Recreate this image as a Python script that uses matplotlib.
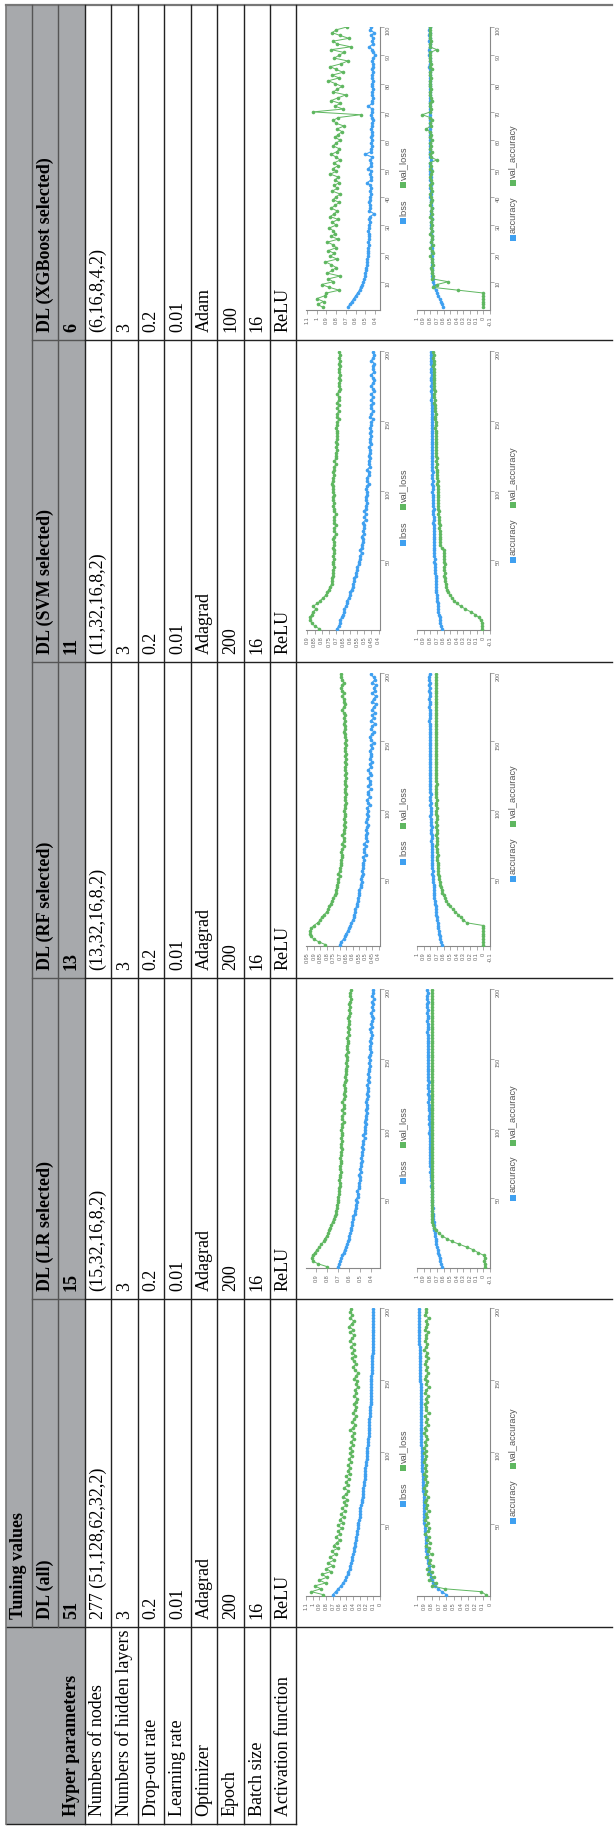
import numpy as np
import matplotlib
matplotlib.use("Agg")
import matplotlib.pyplot as plt
from matplotlib.patches import Rectangle

# ---------------- table content ----------------
column_titles = ["DL (all)", "DL (LR selected)", "DL (RF selected)", "DL (SVM selected)", "DL (XGBoost selected)"]
feature_counts = ["51", "15", "13", "11", "6"]
param_names = ["Numbers of nodes", "Numbers of hidden layers", "Drop-out rate", "Learning rate",
               "Optimizer", "Epoch", "Batch size", "Activation function"]
nodes = ["277 (51,128,62,32,2)", "(15,32,16,8,2)", "(13,32,16,8,2)", "(11,32,16,8,2)", "(6,16,8,4,2)"]
hidden_layers = ["3", "3", "3", "3", "3"]
dropout = ["0.2", "0.2", "0.2", "0.2", "0.2"]
learning_rate = ["0.01", "0.01", "0.01", "0.01", "0.01"]
optimizer = ["Adagrad", "Adagrad", "Adagrad", "Adagrad", "Adam"]
epoch_vals = ["200", "200", "200", "200", "100"]
batch_size = ["16", "16", "16", "16", "16"]
activation = ["ReLU", "ReLU", "ReLU", "ReLU", "ReLU"]

# ---------------- training histories (values x100) ----------------
epochs_200 = list(range(1, 200, 2))
epochs_100 = list(range(1, 101))

all_loss = [70,66,62,58,55,52,50,48,47,45, 44,43,42,41,40,39,38,37,37,36,
            35,34,34,33,32,32,31,30,30,29, 29,28,27,27,26,26,25,25,24,24,
            23,23,22,22,22,21,21,20,20,19, 19,19,18,18,18,17,17,17,16,16,
            16,16,15,15,15,15,14,14,14,14, 14,13,13,13,13,13,13,12,12,12,
            12,12,12,12,11,11,11,11,11,11, 11,11,10,11,10,10,10,10,10,10]
all_val_loss = [85,102,88,97,81,90,79,86,73,80, 70,77,68,74,66,72,63,69,64,60,
                66,59,62,57,63,55,60,54,58,52, 56,51,54,49,55,50,47,53,48,51,
                46,50,45,48,44,47,43,46,42,45, 41,44,40,43,39,42,38,44,40,37,
                41,38,36,40,37,35,39,36,34,38, 35,37,33,36,34,38,35,33,37,40,
                36,39,42,37,41,38,43,39,45,41, 38,44,40,46,42,39,45,41,44,43]
all_acc = [60,66,71,75,78,80,81,82,83,84, 84,85,85,86,86,87,87,87,88,88,
           88,89,89,89,89,90,90,90,90,90, 91,91,91,91,91,91,92,92,92,92,
           92,92,92,93,93,93,93,93,93,93, 93,93,94,94,94,94,94,94,94,94,
           94,94,95,95,95,95,95,95,95,95, 95,95,95,95,96,96,96,96,96,96,
           96,96,96,96,96,96,96,97,97,97, 97,97,97,97,97,97,97,97,97,97]
all_val_acc = [6,12,62,79,74,83,77,85,80,86, 78,84,82,87,80,85,83,88,82,86,
               84,89,85,83,87,85,89,86,88,84, 88,86,89,87,85,89,87,90,88,86,
               89,88,90,87,89,88,91,89,87,90, 88,90,87,89,86,88,90,87,89,85,
               88,86,89,84,88,87,89,86,88,85, 89,87,84,88,86,89,87,85,88,86,
               89,87,85,88,86,90,87,86,89,87, 88,85,89,87,86,88,84,89,87,88]

lr_loss = [70,69,68,67,66,65,64,63,62,61, 60,60,59,58,58,57,57,56,56,55,
           55,54,54,53,54,52,52,53,51,51, 51,50,50,51,49,50,49,49,48,49,
           48,48,47,48,47,47,46,47,46,46, 46,45,46,45,45,44,45,44,44,45,
           44,43,44,43,43,44,42,43,42,43, 42,42,41,42,41,42,41,40,41,41,
           40,41,40,39,40,41,39,40,39,38, 39,40,38,39,38,39,37,39,38,38]
lr_val_loss = [80,88,93,94,93,91,89,87,85,83, 82,80,79,78,77,76,75,74,73,72,
               72,71,71,70,70,70,69,69,69,68, 68,69,68,68,67,68,68,67,67,68,
               67,67,66,67,67,66,67,66,66,67, 66,66,65,66,66,65,66,65,65,66,
               65,64,65,64,64,65,64,63,64,63, 63,63,62,63,62,62,63,61,62,62,
               61,61,62,60,61,60,61,60,60,61, 60,59,60,59,60,59,58,59,59,58]
lr_acc = [62,64,65,66,67,68,69,70,71,72, 72,73,73,74,74,75,75,76,76,76,
          77,76,77,77,78,77,78,78,78,79, 78,79,79,79,80,79,80,80,80,80,
          81,80,81,81,80,81,81,81,82,81, 81,82,81,82,82,81,82,82,82,83,
          82,82,83,82,83,83,82,83,83,83, 83,84,83,83,84,83,84,84,83,84,
          84,84,83,84,85,84,84,84,85,84, 84,85,84,85,85,84,85,85,84,85]
lr_val_acc = [-2,-2,-1,-2,-1,8,15,25,36,47, 55,62,67,71,74,76,77,77,77,77,
              77,78,77,77,78,77,77,78,77,77, 78,77,77,78,77,78,77,77,78,77,
              77,78,77,78,77,77,78,77,78,77, 77,78,77,77,78,77,78,77,77,78,
              77,78,77,78,77,77,78,77,78,78, 77,78,78,77,78,77,78,78,77,78,
              78,77,78,78,77,78,78,77,78,78, 77,78,78,78,77,78,78,77,78,78]

rf_loss = [70,69,67,66,65,64,63,62,61,60, 59,59,58,58,57,57,56,56,55,55,
           55,54,54,53,54,53,52,53,52,52, 52,51,52,50,51,51,50,51,49,50,
           50,49,50,49,48,50,49,48,49,48, 49,47,48,49,47,48,48,46,48,47,
           47,48,46,47,48,46,47,45,47,46, 46,47,45,46,44,46,47,45,44,46,
           45,43,46,44,45,43,45,44,42,45, 44,42,45,43,44,42,45,43,44,46]
rf_val_loss = [81,86,90,92,93,93,92,90,87,85, 84,82,80,79,78,77,76,75,74,73,
               73,72,72,71,71,70,71,70,70,69, 69,69,68,68,69,68,67,68,67,67,
               68,67,67,66,67,66,67,66,66,67, 66,66,65,66,66,65,66,66,65,66,
               66,65,66,65,66,66,65,66,65,66, 65,66,66,65,66,65,66,66,67,66,
               66,67,66,67,66,67,68,67,66,67, 67,68,67,68,69,68,67,68,69,69]
rf_acc = [63,64,65,66,67,67,68,69,69,70, 70,71,71,72,72,73,73,74,74,74,
          75,75,75,76,76,76,77,76,77,77, 77,77,78,77,78,78,78,78,79,78,
          78,79,79,78,79,79,79,80,79,79, 79,80,79,80,80,79,80,80,80,80,
          80,80,81,80,80,81,80,81,80,81, 81,80,81,81,80,81,81,81,80,81,
          81,81,82,81,81,80,81,82,81,81, 82,81,81,82,81,82,81,82,82,81]
rf_val_acc = [0,0,0,0,0,0,0,0,25,30, 34,38,42,46,50,53,56,58,60,62,
              63,64,65,66,67,67,68,68,69,69, 69,70,70,69,70,70,71,70,70,70,
              71,70,70,71,70,71,70,70,71,71, 70,71,71,70,71,71,72,71,71,70,
              71,72,71,71,72,71,71,72,71,71, 72,71,72,72,71,72,71,72,72,71,
              72,72,71,72,72,71,72,72,71,72, 72,71,72,72,71,72,72,72,71,72]

svm_loss = [69,68,67,67,66,65,64,64,63,62, 62,61,60,60,59,58,58,57,57,56,
            56,55,55,54,54,53,53,52,53,52, 52,51,51,52,50,51,50,50,51,49,
            50,49,50,49,49,48,49,49,48,48, 49,48,47,48,48,47,47,48,46,47,
            47,46,47,46,46,47,45,46,46,45, 46,45,46,45,45,44,46,45,44,45,
            45,44,45,44,45,43,44,45,44,43, 44,45,43,44,44,43,45,44,43,44]
svm_val_loss = [82,85,87,88,88,87,86,84,86,83, 81,79,77,76,75,74,73,73,73,72,
                72,72,71,72,72,71,72,71,71,72, 71,71,72,71,70,71,71,70,71,71,
                71,70,71,71,72,71,72,72,71,72, 72,72,73,72,72,71,72,71,71,70,
                71,70,70,70,69,70,69,70,69,69, 69,69,70,69,69,68,69,69,68,69,
                68,69,68,68,69,68,67,68,68,67, 68,67,68,68,67,68,67,68,67,68]
svm_acc = [63,64,65,66,66,67,68,68,69,69, 70,70,70,71,71,71,72,72,72,72,
           73,73,73,73,74,73,74,74,74,74, 74,75,74,75,75,75,75,75,76,75,
           75,76,76,75,76,76,76,76,76,77, 76,76,77,76,77,77,76,77,77,77,
           77,77,77,77,78,77,77,78,77,78, 78,77,78,78,77,78,78,78,78,78,
           78,78,79,78,78,79,78,79,78,79, 79,78,79,79,78,79,79,79,79,79]
svm_val_acc = [2,2,2,4,7,12,19,27,34,40, 44,47,50,53,55,56,57,58,58,59,
               58,59,59,58,59,59,60,59,60,63, 65,65,66,65,66,66,67,66,67,67,
               67,68,67,68,68,68,69,68,69,69, 69,69,70,69,70,70,70,70,71,70,
               71,70,71,71,71,72,71,72,72,71, 72,72,73,72,72,73,73,72,73,73,
               73,74,73,74,74,73,74,74,75,74, 75,74,75,75,76,75,75,76,75,76]

xgb_loss = [68,66,64,62,60,58,56,55,53,52, 51,50,50,49,49,48,48,48,47,47,
            47,47,46,47,46,46,46,47,46,46, 45,46,45,41,46,45,45,46,45,45,
            44,45,44,45,48,44,44,45,44,47, 44,44,45,43,50,44,44,43,44,43,
            44,43,43,44,43,43,42,43,44,43, 43,47,43,43,42,43,43,42,43,43,
            42,43,43,42,43,42,42,43,42,40, 42,43,46,42,43,42,44,41,45,44]
xgb_val_loss = [94,99,93,100,92,90,77,87,95,83, 88,76,89,84,80,85,91,79,86,82,
                88,80,83,89,78,85,81,83,87,80, 84,78,86,82,79,85,81,77,83,80,
                76,84,79,82,77,81,78,86,80,83, 78,82,76,80,85,79,77,83,80,76,
                81,78,74,79,72,80,83,78,55,104, 73,81,76,85,78,70,83,79,74,81,
                88,77,84,73,80,86,75,68,82,77, 72,85,65,79,83,67,76,84,80,69]
xgb_acc = [61,62,64,66,68,70,72,74,75,76, 76,77,77,77,77,78,78,78,77,78,
           78,78,78,79,78,78,79,78,79,79, 79,78,79,79,79,78,79,79,79,80,
           79,79,80,79,79,80,79,80,80,79, 80,80,79,80,80,80,80,81,80,80,
           80,80,81,80,80,81,80,81,81,80, 81,80,81,81,81,80,81,81,81,81,
           81,81,80,81,81,82,81,81,81,82, 81,82,81,81,82,81,82,81,82,81]
xgb_val_acc = [0,0,0,0,0,0,38,76,70,53, 77,76,78,77,79,76,78,77,80,76,
               78,80,76,79,77,78,80,77,79,78, 79,77,80,78,79,78,80,79,78,79,
               80,78,79,80,78,79,80,79,78,80, 79,81,70,79,80,78,81,79,80,78,
               80,79,81,86,79,80,78,80,92,80, 79,81,80,78,79,81,80,79,81,80,
               80,79,81,80,78,81,79,80,81,80, 80,70,81,80,79,81,80,80,81,81]

# axis tick values
all_loss_ticks = [0, 0.1, 0.2, 0.3, 0.4, 0.5, 0.6, 0.7, 0.8, 0.9, 1.0, 1.1]
all_acc_ticks = [0, 0.1, 0.2, 0.3, 0.4, 0.5, 0.6, 0.7, 0.8, 0.9, 1.0]
acc_ticks = [-0.1, 0, 0.1, 0.2, 0.3, 0.4, 0.5, 0.6, 0.7, 0.8, 0.9, 1.0]
lr_loss_ticks = [0.4, 0.5, 0.6, 0.7, 0.8, 0.9]
rf_loss_ticks = [0.4, 0.45, 0.5, 0.55, 0.6, 0.65, 0.7, 0.75, 0.8, 0.85, 0.9, 0.95]
svm_loss_ticks = [0.4, 0.45, 0.5, 0.55, 0.6, 0.65, 0.7, 0.75, 0.8, 0.85, 0.9]
xgb_loss_ticks = [0.4, 0.5, 0.6, 0.7, 0.8, 0.9, 1.0, 1.1]
epoch_ticks_200 = [50, 100, 150, 200]
epoch_ticks_100 = [10, 20, 30, 40, 50, 60, 70, 80, 90, 100]

# ---------------- styling / layout ----------------
W, H = 616, 1833
GRAY = "#a7a9ac"
BLUE = "#3fa0f0"
GREEN = "#5fb760"
SERIF = "Liberation Serif"
SANS = "Liberation Sans"
FS = 13.0

fig = plt.figure(figsize=(W / 100, H / 100), dpi=100)
ax0 = fig.add_axes([0, 0, 1, 1])
ax0.set_xlim(0, W)
ax0.set_ylim(H, 0)
ax0.axis("off")

row_edges = [6, 32, 58, 85, 111, 138, 164, 191, 217, 244, 270, 296]
col_bounds = [(1300, 1628), (979, 1300), (663, 979), (341, 663), (6, 341)]
hp_bounds = (1628, 1825)
top_y, bottom_y = 6, 1825
right_x = 612

ax0.add_patch(Rectangle((row_edges[0], top_y), row_edges[3] - row_edges[0], bottom_y - top_y,
                        facecolor=GRAY, edgecolor="none", zorder=0))

LC = "#222222"
HC = "#555555"
lw = 1.0
ax0.plot([row_edges[0], right_x], [top_y, top_y], color="#777777", lw=1.6)
ax0.plot([row_edges[0], row_edges[-1]], [bottom_y, bottom_y], color=LC, lw=lw)
ax0.plot([row_edges[0], right_x], [hp_bounds[0], hp_bounds[0]], color=LC, lw=lw)
for (a, b) in col_bounds[:-1]:
    ax0.plot([row_edges[1], row_edges[3]], [a, a], color=HC, lw=lw)
    ax0.plot([row_edges[3], right_x], [a, a], color=LC, lw=lw)
ax0.plot([row_edges[0], row_edges[0]], [top_y, bottom_y], color="#777777", lw=1.2)
for xe in row_edges[1:3]:
    ax0.plot([xe, xe], [top_y, hp_bounds[0]], color=HC, lw=lw)
for xe in row_edges[3:]:
    ax0.plot([xe, xe], [top_y, bottom_y], color=LC, lw=lw)

def rc(i):
    return 0.5 * (row_edges[i] + row_edges[i + 1])

PAD = 9
def vtext(x, y, s, bold=False):
    ax0.text(x, y, s, rotation=90, ha="center", va="bottom", fontsize=FS,
             family=SERIF, fontweight="bold" if bold else "normal", color="black")

vtext(rc(0), hp_bounds[0] - PAD, "Tuning values", bold=True)
vtext(rc(2), hp_bounds[1] - PAD, "Hyper parameters", bold=True)
for i, name in enumerate(param_names):
    vtext(rc(3 + i), hp_bounds[1] - PAD, name)

value_rows = [nodes, hidden_layers, dropout, learning_rate, optimizer, epoch_vals, batch_size, activation]
for c, (a, b) in enumerate(col_bounds):
    vtext(rc(1), b - PAD, column_titles[c], bold=True)
    vtext(rc(2), b - PAD, feature_counts[c], bold=True)
    for r, vals in enumerate(value_rows):
        vtext(rc(3 + r), b - PAD, vals[c])

# ---------------- charts ----------------
def px_axes(x0, x1, ytop, ybot):
    return fig.add_axes([x0 / W, 1 - ybot / H, (x1 - x0) / W, (ybot - ytop) / H])

def fmt(v):
    return "%g" % round(v, 2)

def draw_chart(x0, x1, ytop, ybot, epochs, s_train, s_val, vmax, vmin, vticks, eticks, emax):
    ax = px_axes(x0, x1, ytop, ybot)
    ax.patch.set_alpha(0)
    ax.plot(np.array(s_train) / 100.0, epochs, "-o", color=BLUE, ms=2.6, lw=0.8, mew=0, zorder=3)
    ax.plot(np.array(s_val) / 100.0, epochs, "-o", color=GREEN, ms=2.6, lw=0.7, mew=0, zorder=4)
    ax.set_xlim(vmax, vmin)
    ax.set_ylim(0, emax)
    for sp in ["top", "left"]:
        ax.spines[sp].set_visible(False)
    for sp in ["bottom", "right"]:
        ax.spines[sp].set_color("#888888")
        ax.spines[sp].set_linewidth(0.8)
    ax.xaxis.set_ticks_position("bottom")
    ax.yaxis.set_ticks_position("right")
    ax.set_xticks(vticks)
    ax.set_xticklabels([fmt(v) for v in vticks], family=SANS)
    ax.set_yticks(eticks)
    ax.set_yticklabels([str(e) for e in eticks], family=SANS)
    ax.tick_params(axis="x", labelrotation=90, labelsize=4.0, length=3, width=0.5,
                   color="#888888", labelcolor="#666666", pad=1)
    ax.tick_params(axis="y", labelrotation=90, labelsize=4.0, length=3, width=0.5,
                   color="#888888", labelcolor="#666666", pad=1)
    return ax

def legend(xc, center, labels, first_off, second_off):
    for off, lab, col in [(first_off, labels[0], BLUE), (second_off, labels[1], GREEN)]:
        y = center + off
        ax0.add_patch(Rectangle((xc - 3, y - 3), 6, 6, facecolor=col, edgecolor="none"))
        ax0.text(xc + 0.5, y - 6, lab, rotation=90, ha="center", va="bottom", fontsize=6.6,
                 family=SANS, color="#555555")

LOSS_X = (306, 380)
ACC_X = (417, 490)
chart_y = [(1309, 1597), (990, 1269), (674, 947), (352, 631), (28, 311)]

series = [
    (epochs_200, all_loss, all_val_loss, 1.1, 0.0, all_loss_ticks, all_acc, all_val_acc, 1.0, 0.0, all_acc_ticks, epoch_ticks_200, 200),
    (epochs_200, lr_loss, lr_val_loss, 0.99, 0.32, lr_loss_ticks, lr_acc, lr_val_acc, 1.0, -0.1, acc_ticks, epoch_ticks_200, 200),
    (epochs_200, rf_loss, rf_val_loss, 0.96, 0.39, rf_loss_ticks, rf_acc, rf_val_acc, 1.0, -0.1, acc_ticks, epoch_ticks_200, 200),
    (epochs_200, svm_loss, svm_val_loss, 0.91, 0.39, svm_loss_ticks, svm_acc, svm_val_acc, 1.0, -0.1, acc_ticks, epoch_ticks_200, 200),
    (epochs_100, xgb_loss, xgb_val_loss, 1.11, 0.35, xgb_loss_ticks, xgb_acc, xgb_val_acc, 1.0, -0.1, acc_ticks, epoch_ticks_100, 100),
]

for (ytop, ybot), s in zip(chart_y, series):
    ep, tl, vl, lmax, lmin, lt, ta, va, amax, amin, at, et, emax = s
    draw_chart(LOSS_X[0], LOSS_X[1], ytop, ybot, ep, tl, vl, lmax, lmin, lt, et, emax)
    draw_chart(ACC_X[0], ACC_X[1], ytop, ybot, ep, ta, va, amax, amin, at, et, emax)
    c = 0.5 * (ytop + ybot) + 12
    legend(403, c, ["loss", "val_loss"], 40, 4)
    legend(513, c, ["accuracy", "val_accuracy"], 57, 2)

fig.savefig("out.png", dpi=100)
